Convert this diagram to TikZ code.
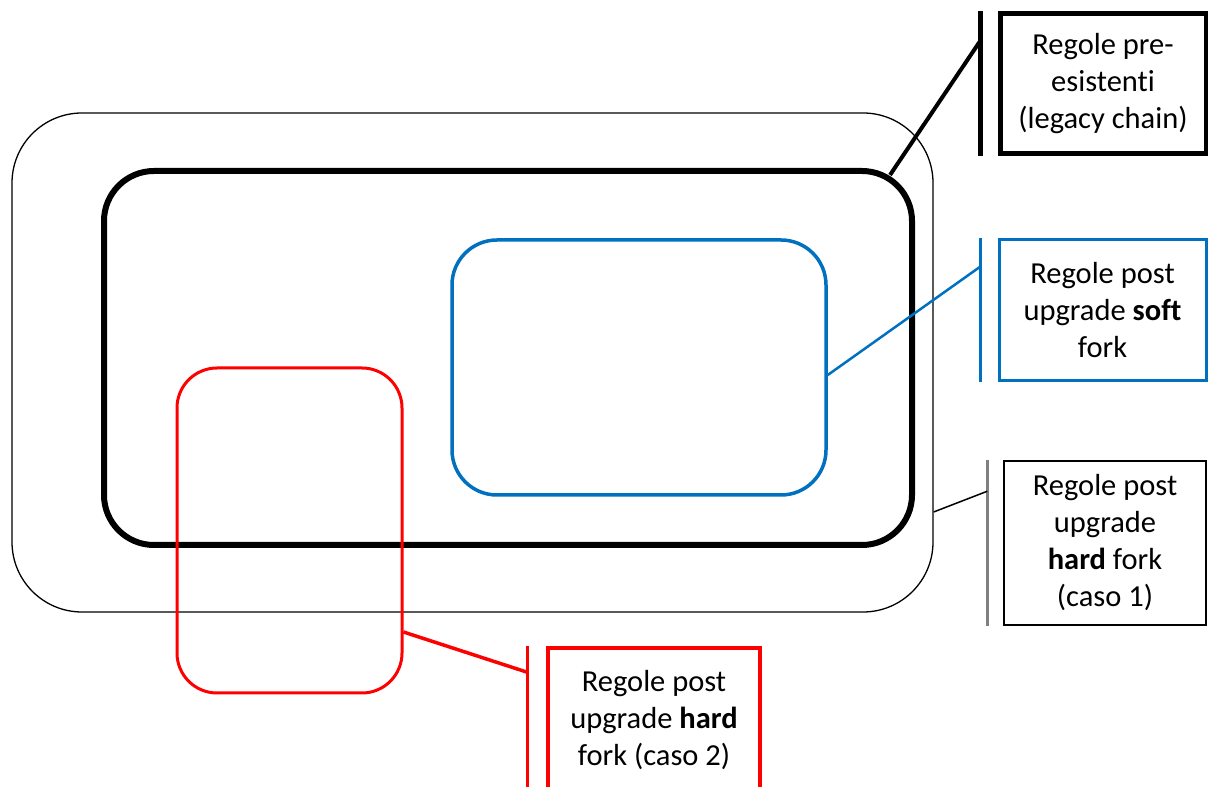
\documentclass[tikz,border=0pt]{standalone}
\usepackage{fontspec}
\setmainfont[Ligatures=NoCommon]{Carlito}
\definecolor{softblue}{RGB}{0,112,192}
\definecolor{bargray}{RGB}{128,128,128}
\tikzset{
  rules/.style={draw, rectangle, rounded corners=#1, inner sep=0pt},
  callout/.style={draw, rectangle, align=center, inner sep=0pt,
    font=\fontsize{30.5}{37}\selectfont},
}
\begin{document}
\begin{tikzpicture}[x=1pt,y=1pt]
\useasboundingbox (0,0) rectangle (1208,787);
\begin{scope}
\clip (0,0) rectangle (1208,787);
% nested rule sets
\node[rules=70, line width=1.3pt, minimum width=921, minimum height=499] (hardone) at (472.5,424.5) {};
\node[rules=50, line width=6pt, minimum width=808, minimum height=374] (legacy) at (508,429) {};
\node[rules=45, line width=3.5pt, softblue, minimum width=374, minimum height=255] (soft) at (639,419.5) {};
\node[rules=40, line width=3pt, red, minimum width=225, minimum height=325] (hardtwo) at (289.5,256.5) {};

% callout boxes
\node[callout, line width=5pt, minimum width=206, minimum height=140] (legacybox) at (1103,703)
  {Regole pre-\\esistenti\\(legacy chain)};
\node[callout, line width=3pt, draw=softblue, minimum width=207, minimum height=141] (softbox) at (1102.5,476.5)
  {Regole post\\upgrade \textbf{soft}\\fork};
\node[callout, line width=1.5pt, minimum width=202, minimum height=164] (hardonebox) at (1105,244)
  {Regole post\\upgrade\\\textbf{hard} fork\\(caso 1)};
\node[callout, line width=3.5pt, draw=red, minimum width=212, minimum height=144] (hardtwobox) at (654,67)
  {Regole post\\upgrade \textbf{hard}\\fork (caso 2)};

% accent bars
\draw[line width=5pt] ([xshift=-17]legacybox.north west) -- ([xshift=-17]legacybox.south west);
\draw[line width=3pt, softblue] ([xshift=-17]softbox.north west) -- ([xshift=-17]softbox.south west);
\draw[line width=2.5pt, bargray] ([xshift=-16]hardonebox.north west) -- ([xshift=-16]hardonebox.south west);
\draw[line width=3.5pt, red] ([xshift=-19]hardtwobox.north west) -- ([xshift=-19,yshift=-40]hardtwobox.south west);

% leader lines
\coordinate (legacypin) at ([xshift=-17,yshift=-29]legacybox.north west);
\coordinate (softpin) at ([xshift=-17,yshift=-28]softbox.north west);
\coordinate (hardonepin) at ([xshift=-16,yshift=-31]hardonebox.north west);
\coordinate (hardtwopin) at ([xshift=-19,yshift=-26]hardtwobox.north west);
\draw[line width=4pt] ([xshift=-25,yshift=-7]legacy.north east) -- (legacypin);
\draw[line width=2.5pt, softblue] ([yshift=-7.5]soft.east) -- (softpin);
\draw[line width=1.5pt] ([yshift=-149.5]hardone.east) -- (hardonepin);
\draw[line width=3.5pt, red] ([yshift=-101.5]hardtwo.east) -- (hardtwopin);
\end{scope}
\end{tikzpicture}
\end{document}
